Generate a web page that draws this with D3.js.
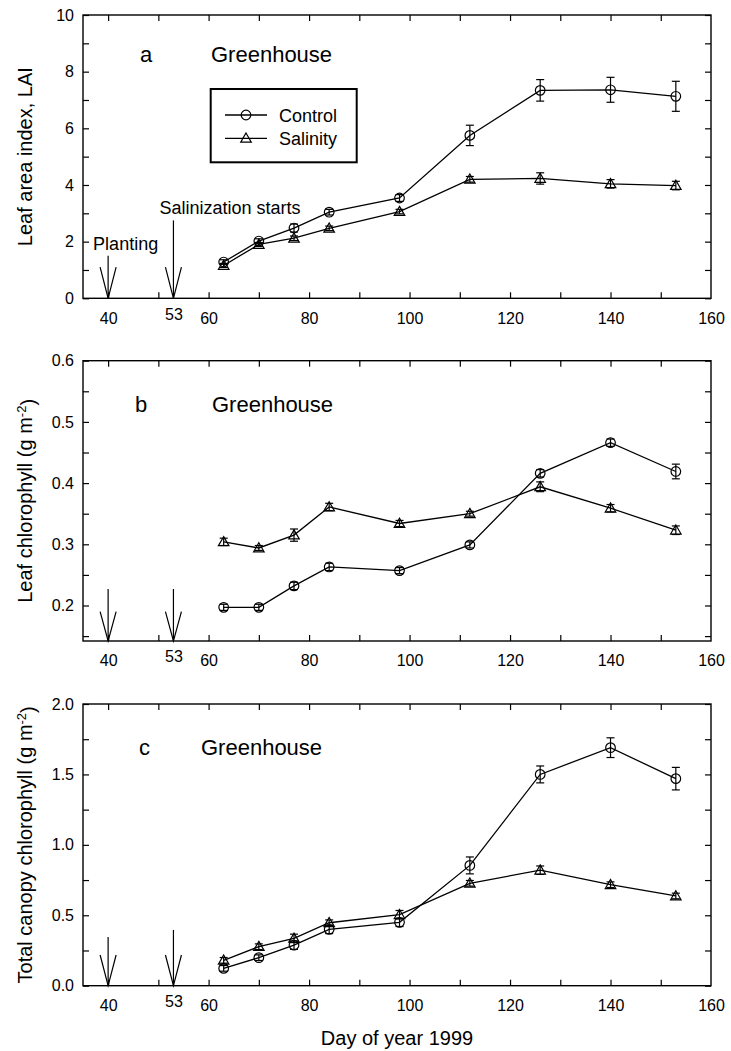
<!DOCTYPE html>
<html>
<head>
<meta charset="utf-8">
<script src="https://cdn.jsdelivr.net/npm/d3@7"></script>
<style>
body { margin: 0; background: #fff; }
text { font-family: "Liberation Sans", Arial, sans-serif; fill: #000; }
</style>
</head>
<body>
<svg id="chart" width="731" height="1051"></svg>
<script>
// sampling days (day of year 1999)
var days = [63, 70, 77, 84, 98, 112, 126, 140, 153];
var xTickLabels = [40, 53, 60, 80, 100, 120, 140, 160];
var xTickMarks = [40, 50, 60, 70, 80, 90, 100, 110, 120, 130, 140, 150];
var arrowDays = [40, 53];
var seriesNames = ["Control", "Salinity"];

// a: leaf area index
var laiControl = [1.28, 2.02, 2.48, 3.04, 3.54, 5.75, 7.34, 7.36, 7.13];
var laiControlErr = [0.08, 0.08, 0.14, 0.1, 0.12, 0.36, 0.38, 0.44, 0.53];
var laiSalinity = [1.16, 1.9, 2.12, 2.47, 3.06, 4.2, 4.23, 4.04, 3.98];
var laiSalinityErr = [0.07, 0.07, 0.08, 0.08, 0.08, 0.1, 0.2, 0.15, 0.15];
var laiTicks = [0, 1, 2, 3, 4, 5, 6, 7, 8, 9, 10];
var laiLabels = [0, 2, 4, 6, 8, 10];

// b: leaf chlorophyll
var chlControl = [0.197, 0.197, 0.232, 0.263, 0.257, 0.299, 0.416, 0.466, 0.419];
var chlControlErr = [0.005, 0.005, 0.006, 0.006, 0.005, 0.005, 0.006, 0.006, 0.012];
var chlSalinity = [0.304, 0.294, 0.315, 0.361, 0.334, 0.35, 0.394, 0.359, 0.323];
var chlSalinityErr = [0.006, 0.004, 0.01, 0.006, 0.005, 0.004, 0.008, 0.006, 0.007];
var chlTicks = [0.15, 0.2, 0.25, 0.3, 0.35, 0.4, 0.45, 0.5, 0.55, 0.6];
var chlLabels = [0.2, 0.3, 0.4, 0.5, 0.6];

// c: total canopy chlorophyll
var canControl = [0.123, 0.199, 0.288, 0.4, 0.45, 0.854, 1.5, 1.69, 1.47];
var canControlErr = [0.02, 0.02, 0.03, 0.03, 0.03, 0.06, 0.06, 0.07, 0.08];
var canSalinity = [0.18, 0.277, 0.336, 0.447, 0.504, 0.727, 0.82, 0.717, 0.637];
var canSalinityErr = [0.02, 0.02, 0.03, 0.02, 0.03, 0.02, 0.03, 0.02, 0.02];
var canTicks = [0, 0.25, 0.5, 0.75, 1, 1.25, 1.5, 1.75, 2];
var canLabels = [0, 0.5, 1, 1.5, 2];

var svg = d3.select("#chart");
var left = 83, right = 711;

var x = d3.scaleLinear().domain([35, 160]).range([left, right]);

var panels = [
    { letter: "a", title: "Leaf area index, LAI", sup: null, top: 15, bottom: 298.3,
      domain: [0, 10], ticks: laiTicks, labels: laiLabels, fmt: d3.format("d"),
      control: laiControl, controlErr: laiControlErr, salinity: laiSalinity, salinityErr: laiSalinityErr,
      arrowTop: [1.5, 2.75], wingTop: 1.1, letterX: 140, ghX: 211, labelDy: 47, legend: true },
    { letter: "b", title: "Leaf chlorophyll (g m", sup: "-2", top: 360.7, bottom: 641,
      domain: [0.142, 0.6], ticks: chlTicks, labels: chlLabels, fmt: d3.format(".1f"),
      control: chlControl, controlErr: chlControlErr, salinity: chlSalinity, salinityErr: chlSalinityErr,
      arrowTop: [0.227, 0.227], wingTop: 0.19, letterX: 135, ghX: 212, labelDy: 51 },
    { letter: "c", title: "Total canopy chlorophyll (g m", sup: "-2", top: 704, bottom: 985.7,
      domain: [0, 2], ticks: canTicks, labels: canLabels, fmt: d3.format(".1f"),
      control: canControl, controlErr: canControlErr, salinity: canSalinity, salinityErr: canSalinityErr,
      arrowTop: [0.346, 0.396], wingTop: 0.218, letterX: 139, ghX: 201, labelDy: 51 }
];

var triangle = d3.symbol().type(d3.symbolTriangle).size(48);

function drawMarker(g, kind, cx, cy) {
    if (kind === "Control") {
        g.append("circle").attr("cx", cx).attr("cy", cy).attr("r", 4.8)
            .attr("fill", "none").attr("stroke", "#000").attr("stroke-width", 1.2);
    } else {
        g.append("path").attr("d", triangle)
            .attr("transform", "translate(" + cx + "," + (cy + 0.8) + ")")
            .attr("fill", "none").attr("stroke", "#000").attr("stroke-width", 1.2);
    }
}

panels.forEach(function(p) {
    var y = d3.scaleLinear().domain(p.domain).range([p.bottom, p.top]);
    var g = svg.append("g");

    // frame
    g.append("rect")
        .attr("x", left).attr("y", p.top)
        .attr("width", right - left).attr("height", p.bottom - p.top)
        .attr("fill", "none").attr("stroke", "#000").attr("stroke-width", 1.4);

    // inward ticks on all four sides
    var tickAxes = [
        [d3.axisBottom(x).tickValues(xTickMarks), "translate(0," + p.bottom + ")"],
        [d3.axisTop(x).tickValues(xTickMarks), "translate(0," + p.top + ")"],
        [d3.axisLeft(y).tickValues(p.ticks), "translate(" + left + ",0)"],
        [d3.axisRight(y).tickValues(p.ticks), "translate(" + right + ",0)"]
    ];
    tickAxes.forEach(function(a) {
        g.append("g").attr("transform", a[1])
            .call(a[0].tickSize(-6).tickSizeOuter(0).tickFormat(""))
            .call(function(s) { s.select(".domain").remove(); })
            .selectAll("line").attr("stroke", "#000").attr("stroke-width", 1.2);
    });

    // tick labels
    g.append("g").attr("transform", "translate(" + left + ",0)")
        .call(d3.axisLeft(y).tickValues(p.labels).tickSize(0).tickPadding(9).tickFormat(p.fmt))
        .call(function(s) { s.select(".domain").remove(); })
        .selectAll("text").style("font-size", "16px").attr("font-family", null);

    g.append("g").attr("transform", "translate(0," + p.bottom + ")")
        .call(d3.axisBottom(x).tickValues(xTickLabels).tickSize(0).tickPadding(14))
        .call(function(s) { s.select(".domain").remove(); })
        .selectAll("text").style("font-size", "16px").attr("font-family", null)
        .attr("y", function(d) { return d === 53 ? 10 : 14; });

    // y axis title
    var t = g.append("text")
        .attr("transform", "translate(32," + ((p.top + p.bottom) / 2) + ") rotate(-90)")
        .attr("text-anchor", "middle")
        .style("font-size", "20px")
        .text(p.title);
    if (p.sup) {
        t.append("tspan").attr("dy", "-0.45em").style("font-size", "13px").text(p.sup);
        t.append("tspan").attr("dy", "0.45em").text(")");
    }

    // panel letter and site
    g.append("text").attr("x", p.letterX).attr("y", p.top + p.labelDy)
        .style("font-size", "22px").text(p.letter);
    g.append("text").attr("x", p.ghX).attr("y", p.top + p.labelDy)
        .style("font-size", "22px").text("Greenhouse");

    // planting / salinization arrows
    arrowDays.forEach(function(d, i) {
        var ax = x(d), tip = y(p.domain[0]);
        g.append("line").attr("x1", ax).attr("x2", ax)
            .attr("y1", y(p.arrowTop[i])).attr("y2", tip)
            .attr("stroke", "#000").attr("stroke-width", 1.2);
        g.append("polyline")
            .attr("points", [[ax - 8, y(p.wingTop)], [ax, tip], [ax + 8, y(p.wingTop)]].join(" "))
            .attr("fill", "none").attr("stroke", "#000").attr("stroke-width", 1.2);
    });

    // series
    var line = d3.line()
        .x(function(d) { return x(d[0]); })
        .y(function(d) { return y(d[1]); });

    [["Control", p.control, p.controlErr], ["Salinity", p.salinity, p.salinityErr]].forEach(function(s) {
        var pts = days.map(function(d, i) { return [d, s[1][i], s[2][i]]; });
        g.append("path").attr("d", line(pts))
            .attr("fill", "none").attr("stroke", "#000").attr("stroke-width", 1.3);
        pts.forEach(function(pt) {
            var cx = x(pt[0]);
            var y1 = y(pt[1] - pt[2]), y2 = y(pt[1] + pt[2]);
            g.append("line").attr("x1", cx).attr("x2", cx).attr("y1", y1).attr("y2", y2)
                .attr("stroke", "#000").attr("stroke-width", 1.2);
            [y1, y2].forEach(function(yy) {
                g.append("line").attr("x1", cx - 4).attr("x2", cx + 4).attr("y1", yy).attr("y2", yy)
                    .attr("stroke", "#000").attr("stroke-width", 1.2);
            });
            drawMarker(g, s[0], cx, y(pt[1]));
        });
    });

    if (p.legend) {
        // annotations on panel a
        g.append("text").attr("x", x(40) - 15).attr("y", y(1.7))
            .style("font-size", "18px").text("Planting");
        g.append("text").attr("x", x(53) - 14).attr("y", y(2.97))
            .style("font-size", "18px").text("Salinization starts");

        var lg = g.append("g");
        lg.append("rect").attr("x", 210.7).attr("y", 89).attr("width", 146).attr("height", 73.3)
            .attr("fill", "#fff").attr("stroke", "#000").attr("stroke-width", 2);
        seriesNames.forEach(function(name, i) {
            var ly = 115 + i * 23.3;
            lg.append("line").attr("x1", 225).attr("x2", 267).attr("y1", ly).attr("y2", ly)
                .attr("stroke", "#000").attr("stroke-width", 1.3);
            drawMarker(lg, name, 246, ly);
            lg.append("text").attr("x", 279).attr("y", ly + 6.5)
                .style("font-size", "18px").text(name);
        });
    }
});

// x axis title
svg.append("text")
    .attr("x", (left + right) / 2).attr("y", 1045)
    .attr("text-anchor", "middle")
    .style("font-size", "20px")
    .text("Day of year 1999");
</script>
</body>
</html>
